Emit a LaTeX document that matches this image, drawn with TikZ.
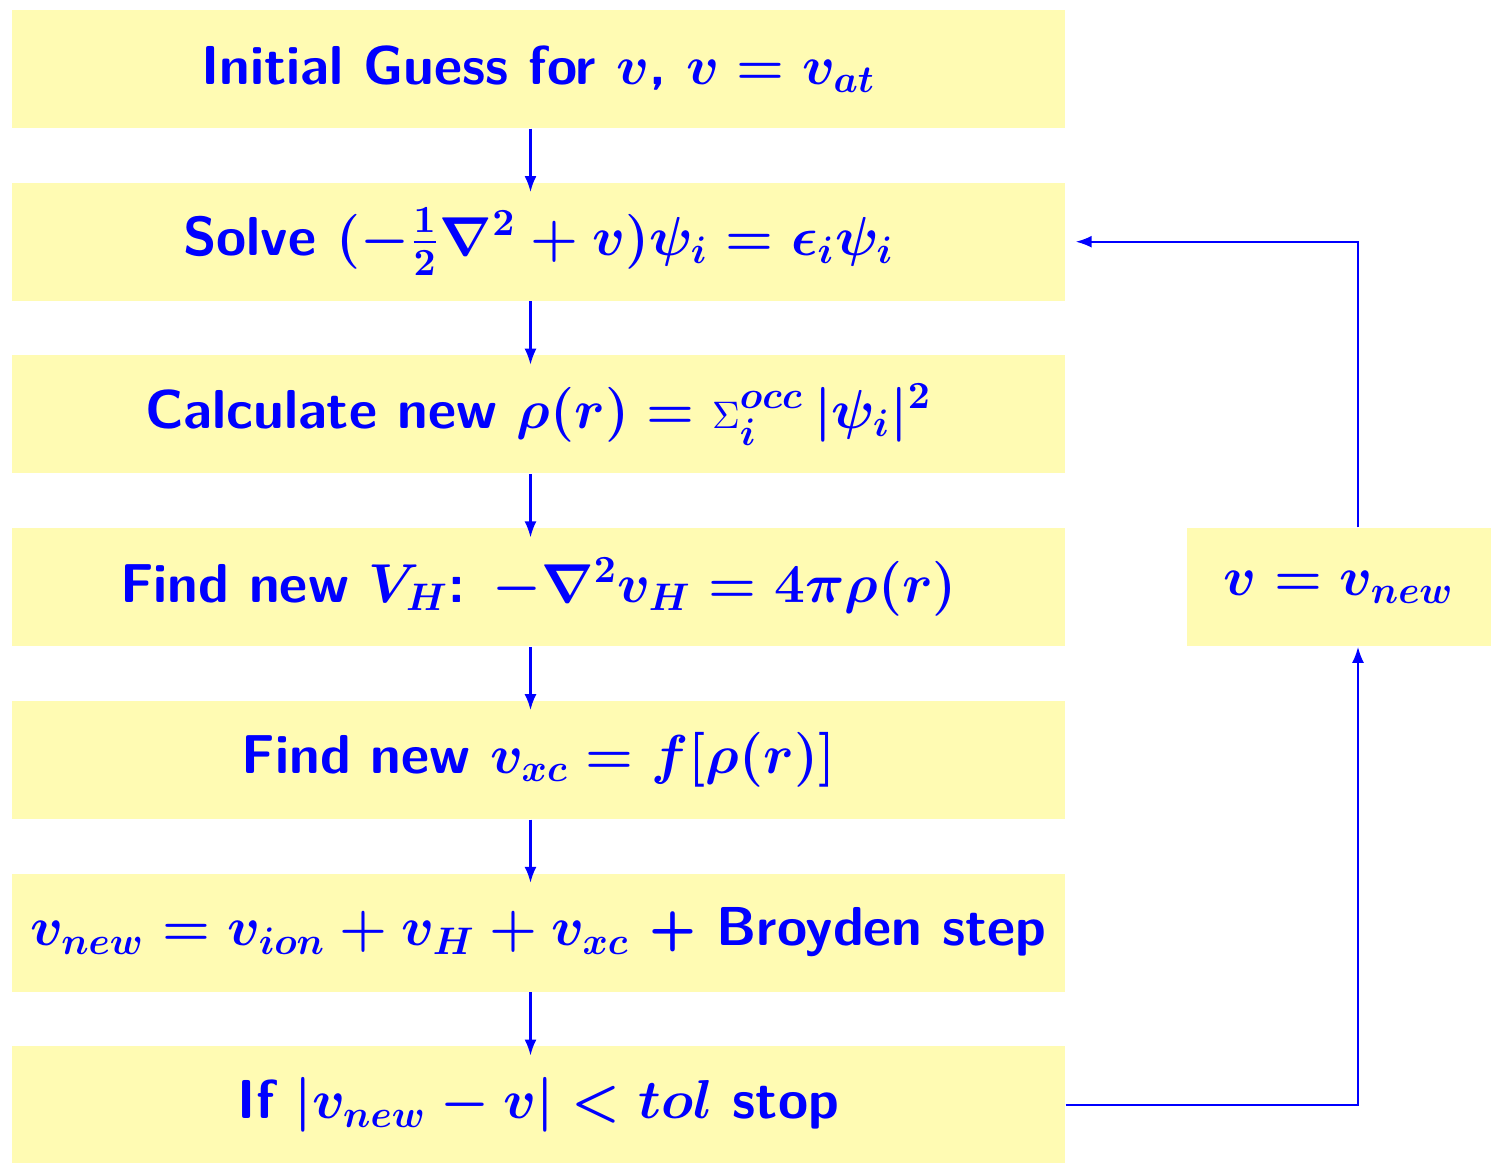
\documentclass[tikz,border=0pt]{standalone}
\usepackage{fix-cm}
\usepackage{amsmath}
\usepackage{amssymb}
\usetikzlibrary{arrows.meta,positioning,calc}

\begin{document}
\begin{tikzpicture}[
  >={Latex[length=1.6mm,width=1.2mm]},
  font=\fontsize{15.6}{19}\selectfont\sffamily\bfseries\boldmath,
  stepbox/.style ={fill=yellow!30, text=blue, align=center, inner sep=0pt,
                   minimum width=10.53cm, minimum height=1.18cm},
  updbox/.style  ={fill=yellow!30, text=blue, align=center, inner sep=0pt,
                   minimum width=3.04cm, minimum height=1.18cm},
  flowline/.style={->, line width=0.6pt, draw=blue},
]
\useasboundingbox (0,0) rectangle (14.92,-11.62);

% Main iteration column
\node[stepbox] (guess)  at (5.385,-0.69)   {Initial Guess for $v$, $v=v_{at}$};
\node[stepbox] (solve)  at (5.385,-2.417)  {Solve $(-\frac{1}{2}\nabla^2+v)\psi_i=\epsilon_i\psi_i$};
\node[stepbox] (dens)   at (5.385,-4.144)  {Calculate new $\rho(r)=\mbox{\unboldmath$\scriptstyle\Sigma$}_i^{occ}\,|\psi_i|^2$};
\node[stepbox] (hart)   at (5.385,-5.871)  {Find new $V_H$: $-\nabla^2 v_H=4\pi\rho(r)$};
\node[stepbox] (xc)     at (5.385,-7.598)  {Find new $v_{xc}=f[\rho(r)]$};
\node[stepbox] (mix)    at (5.385,-9.325)  {$v_{new}=v_{ion}+v_H+v_{xc}$ + Broyden step};
\node[stepbox] (conv)   at (5.385,-11.052) {If $|v_{new}-v|<tol$ stop};

% Potential update on the right
\node[updbox] (upd) at (13.39,-5.871) {$v=v_{new}$};

% Downward arrows between the steps
\foreach \a/\b in {guess/solve, solve/dens, dens/hart, hart/xc, xc/mix, mix/conv}
  \draw[flowline] ([xshift=-0.08cm]\a.south) -- ([xshift=-0.08cm,yshift=-0.1cm]\b.north);

% Feedback loop
\draw[flowline] (conv.east) -| ([xshift=0.19cm]upd.south);
\draw[flowline] ([xshift=0.19cm]upd.north) |- ([xshift=0.1cm]solve.east);
\end{tikzpicture}
\end{document}
